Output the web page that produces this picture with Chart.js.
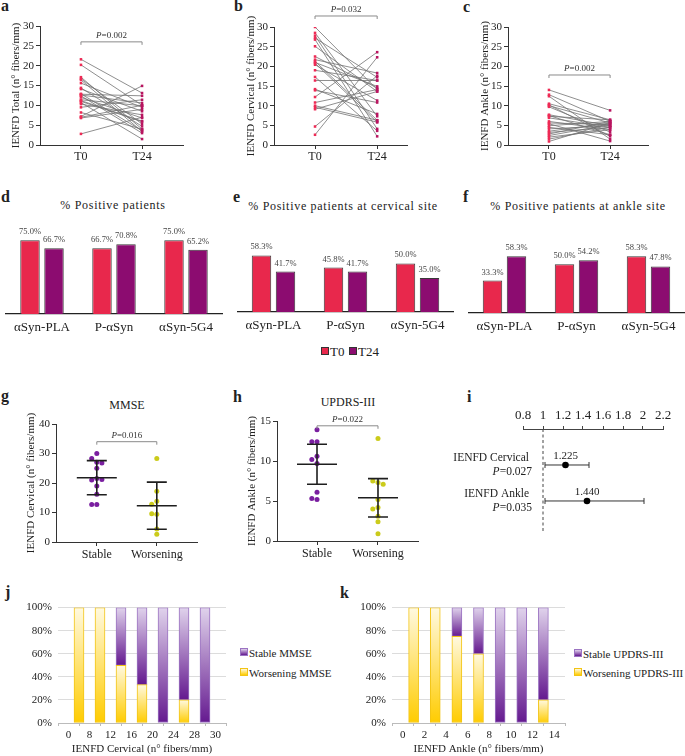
<!DOCTYPE html>
<html>
<head>
<meta charset="utf-8">
<script src="https://cdn.jsdelivr.net/npm/chart.js@4.4.1/dist/chart.umd.min.js"></script>
<style>
  body { margin: 0; background: #fff; width: 685px; height: 756px; position: relative; overflow: hidden;
         font-family: "Liberation Serif", "Times New Roman", serif; color: #222; }
  canvas { position: absolute; }
  .lt { position: absolute; font-weight: bold; font-size: 16px; line-height: 16px; }
  .tt { position: absolute; font-size: 12px; line-height: 14px; white-space: nowrap; transform: translateX(-50%); }
  .sp { letter-spacing: 0.7px; }
  .lg { position: absolute; font-size: 13px; line-height: 14px; white-space: nowrap; }
  .lg2 { position: absolute; font-size: 11px; line-height: 14px; white-space: nowrap; }
  .sw { display: inline-block; width: 6px; height: 6px; border: 1px solid #333; margin-right: 1px; vertical-align: 1px; }
</style>
</head>
<body>
<div class="lt" style="left:1px;top:-2px">a</div>
<div class="lt" style="left:234px;top:-2px">b</div>
<div class="lt" style="left:463px;top:-1px">c</div>
<div class="lt" style="left:1px;top:189px">d</div>
<div class="lt" style="left:233px;top:189px">e</div>
<div class="lt" style="left:463px;top:189px">f</div>
<div class="lt" style="left:1px;top:388px">g</div>
<div class="lt" style="left:233px;top:389px">h</div>
<div class="lt" style="left:467px;top:389px">i</div>
<div class="lt" style="left:5px;top:584px">j</div>
<div class="lt" style="left:340px;top:585px">k</div>

<div class="tt sp" style="left:113px;top:198px">% Positive patients</div>
<div class="tt sp" style="left:343px;top:199px">% Positive patients at cervical site</div>
<div class="tt sp" style="left:578px;top:199px">% Positive patients at ankle site</div>
<div class="tt" style="left:127px;top:398px">MMSE</div>
<div class="tt" style="left:348px;top:395px">UPDRS-III</div>

<div class="lg" style="left:321px;top:345px"><span class="sw" style="background:#E8284C"></span>T0</div>
<div class="lg" style="left:349px;top:345px"><span class="sw" style="background:#8C0C70"></span>T24</div>

<div class="lg2" style="left:240px;top:646px"><span class="sw" style="border-color:#9B73C2;background:linear-gradient(#E0D3EC,#64198F)"></span>Stable MMSE</div>
<div class="lg2" style="left:240px;top:666px"><span class="sw" style="border-color:#F2C414;background:linear-gradient(#FFF9E0,#FFCC00)"></span>Worsening MMSE</div>
<div class="lg2" style="left:574px;top:647px"><span class="sw" style="border-color:#9B73C2;background:linear-gradient(#E0D3EC,#64198F)"></span>Stable UPDRS-III</div>
<div class="lg2" style="left:574px;top:666px"><span class="sw" style="border-color:#F2C414;background:linear-gradient(#FFF9E0,#FFCC00)"></span>Worsening UPDRS-III</div>

<script>
Chart.defaults.font.family = '"Liberation Serif", "Times New Roman", serif';
Chart.defaults.color = '#222';

// ---- data ----
const pairCats = ['T0', 'T24'];
const totalT0  = [21.6, 20.2, 17.1, 16.7, 16.4, 15.6, 14.4, 14.1, 12.8, 12.6, 12.4, 12.0, 11.4, 11.0, 10.7, 10.3, 9.5, 8.2, 7.2, 7.0, 6.8, 12.9, 11.2, 2.8];
const totalT24 = [13.1, 10.0, 4.0, 5.3, 3.4, 9.5, 4.7, 8.5, 12.4, 10.6, 3.0, 6.8, 9.9, 5.9, 1.5, 7.6, 11.4, 4.0, 14.9, 10.0, 9.0, 3.6, 6.0, 7.0];
const cervT0   = [30.0, 28.5, 27.8, 27.2, 26.8, 25.1, 22.5, 21.7, 21.3, 21.0, 20.8, 20.4, 19.0, 17.3, 16.4, 14.2, 13.9, 12.2, 10.8, 10.0, 9.6, 9.1, 4.7, 2.6];
const cervT24  = [14.1, 7.3, 4.1, 17.2, 2.2, 13.6, 14.5, 18.3, 6.3, 14.9, 5.8, 11.3, 16.4, 3.6, 16.4, 7.9, 10.8, 23.6, 14.1, 6.3, 5.8, 13.6, 17.6, 22.3];
const ankleT0  = [14.0, 12.8, 12.4, 10.5, 10.2, 10.0, 9.7, 7.7, 7.5, 7.3, 6.9, 6.0, 5.6, 5.4, 4.9, 4.5, 4.1, 3.5, 3.2, 2.8, 2.4, 2.0, 1.5, 0.9];
const ankleT24 = [8.8, 6.0, 1.5, 6.4, 2.2, 5.6, 3.3, 4.9, 2.6, 6.4, 4.5, 3.9, 5.2, 1.0, 6.0, 2.6, 4.9, 5.6, 4.5, 6.0, 5.2, 3.9, 4.5, 5.6];

const barCats = ['αSyn-PLA', 'P-αSyn', 'αSyn-5G4'];
const posT0 = [75.0, 66.7, 75.0];
const posT24 = [66.7, 70.8, 65.2];
const cervPosT0 = [58.3, 45.8, 50.0];
const cervPosT24 = [41.7, 41.7, 35.0];
const anklePosT0 = [33.3, 50.0, 58.3];
const anklePosT24 = [58.3, 54.2, 47.8];

const groupCats = ['Stable', 'Worsening'];
const mmseStable = [30.0, 28.3, 27.0, 26.8, 25.0, 21.5, 21.0, 21.2, 19.0, 16.2, 12.7, 12.7];
const mmseWorse = [28.3, 17.2, 13.8, 12.8, 9.4, 9.6, 4.4, 2.6];
const mmseMean = [21.8, 12.3];
const mmseSD = [5.8, 8.0];
const updrsStable = [13.9, 12.4, 12.4, 10.6, 10.2, 9.7, 6.1, 5.2, 5.3];
const updrsWorse = [12.8, 7.3, 7.5, 7.1, 5.2, 4.2, 4.0, 3.1, 2.4, 0.9];
const updrsMean = [9.6, 5.4];
const updrsSD = [2.5, 2.4];

const orLabels = ['IENFD Cervical', 'IENFD Ankle'];
const orP = ['0.027', '0.035'];
const orValue = [1.225, 1.440];
const orLow = [1.02, 1.02];
const orHigh = [1.46, 2.01];

const cervBins = [0, 8, 12, 16, 20, 24, 28, 30];
const cervStablePct = [0, 0, 50, 66.7, 100, 80, 100];
const cervWorsePct = [100, 100, 50, 33.3, 0, 20, 0];
const ankleBins = [0, 2, 4, 6, 8, 10, 12, 14];
const ankleStablePct = [0, 0, 25, 40, 100, 100, 80];
const ankleWorsePct = [100, 100, 75, 60, 0, 0, 20];

// ---- plugins ----
const SERIF = '"Liberation Serif", "Times New Roman", serif';

function pText(ctx, label, x, y, size, align) {
  // italic P followed by "=value"
  ctx.font = 'italic ' + size + 'px ' + SERIF;
  const w1 = ctx.measureText('P').width;
  ctx.font = size + 'px ' + SERIF;
  const w2 = ctx.measureText('=' + label).width;
  const sx = align === 'right' ? x - w1 - w2 : x - (w1 + w2) / 2;
  ctx.textAlign = 'left';
  ctx.font = 'italic ' + size + 'px ' + SERIF;
  ctx.fillText('P', sx, y);
  ctx.font = size + 'px ' + SERIF;
  ctx.fillText('=' + label, sx + w1, y);
}

Chart.register({
  id: 'bracket',
  afterDatasetsDraw(chart, args, o) {
    if (!o || o.label == null) return;
    const { x, y } = chart.scales, ctx = chart.ctx;
    const xa = x.getPixelForValue(o.from), xb = x.getPixelForValue(o.to), yy = y.getPixelForValue(o.at);
    ctx.save();
    ctx.strokeStyle = '#8a8a8a';
    ctx.lineWidth = 1;
    ctx.beginPath();
    ctx.moveTo(xa, yy + 3); ctx.lineTo(xa, yy); ctx.lineTo(xb, yy); ctx.lineTo(xb, yy + 3);
    ctx.stroke();
    ctx.fillStyle = '#333';
    ctx.textBaseline = 'bottom';
    pText(ctx, o.label, (xa + xb) / 2, yy - 1.5, 9);
    ctx.restore();
  }
});

Chart.register({
  id: 'barLabels',
  afterDatasetsDraw(chart, args, o) {
    if (!o || !o.show) return;
    const ctx = chart.ctx;
    ctx.save();
    ctx.font = '8.5px ' + SERIF;
    ctx.fillStyle = '#444';
    ctx.textAlign = 'center';
    ctx.textBaseline = 'bottom';
    chart.data.datasets.forEach((ds, i) => {
      chart.getDatasetMeta(i).data.forEach((el, j) => {
        ctx.fillText(ds.data[j].toFixed(1) + '%', el.x, el.y - 4);
      });
    });
    ctx.restore();
  }
});

Chart.register({
  id: 'meanSD',
  afterDatasetsDraw(chart, args, o) {
    if (!o || !o.mean) return;
    const { x, y } = chart.scales, ctx = chart.ctx;
    ctx.save();
    ctx.strokeStyle = '#1e1e1e';
    ctx.lineWidth = 1.6;
    o.mean.forEach((m, i) => {
      const cx = x.getPixelForValue(i + 1);
      const ym = y.getPixelForValue(m), yt = y.getPixelForValue(m + o.sd[i]), yb = y.getPixelForValue(m - o.sd[i]);
      ctx.beginPath();
      ctx.moveTo(cx - 20, ym); ctx.lineTo(cx + 20, ym);
      ctx.moveTo(cx - 10, yt); ctx.lineTo(cx + 10, yt);
      ctx.moveTo(cx - 10, yb); ctx.lineTo(cx + 10, yb);
      ctx.moveTo(cx, yt); ctx.lineTo(cx, yb);
      ctx.stroke();
    });
    ctx.restore();
  }
});

Chart.register({
  id: 'forest',
  beforeDatasetsDraw(chart, args, o) {
    if (!o || !o.show) return;
    const { x } = chart.scales, ctx = chart.ctx, a = chart.chartArea;
    ctx.save();
    ctx.strokeStyle = '#444';
    ctx.lineWidth = 1;
    ctx.setLineDash([3, 2.5]);
    ctx.beginPath();
    ctx.moveTo(x.getPixelForValue(1), a.top);
    ctx.lineTo(x.getPixelForValue(1), a.bottom);
    ctx.stroke();
    ctx.restore();
  },
  afterDatasetsDraw(chart, args, o) {
    if (!o || !o.show) return;
    const { x, y } = chart.scales, ctx = chart.ctx;
    ctx.save();
    ctx.fillStyle = '#222';
    ctx.textBaseline = 'middle';
    orLabels.forEach((lab, i) => {
      const yy = y.getPixelForValue(i + 1);
      ctx.font = '11.5px ' + SERIF;
      ctx.textAlign = 'right';
      ctx.fillText(lab, x.left + 6, yy - 7);
      pText(ctx, orP[i], x.left + 9, yy + 7, 11.5, 'right');
      ctx.font = '11px ' + SERIF;
      ctx.textAlign = 'center';
      ctx.fillText(orValue[i].toFixed(3), x.getPixelForValue(orValue[i]), yy - 9);
    });
    ctx.restore();
  }
});

// ---- layout helper: fixes the plot area of each canvas ----
function panel(box, area, config) {
  const [L, T, W, H] = box, [x0, y0, x1, y1] = area;
  const cv = document.createElement('canvas');
  cv.width = W; cv.height = H;
  cv.style.left = L + 'px'; cv.style.top = T + 'px';
  document.body.appendChild(cv);
  const o = config.options;
  const sx = o.scales.x, sy = o.scales.y;
  const xTop = sx.position === 'top';
  const yShown = sy.display !== false, xShown = sx.display !== false;
  o.responsive = false;
  o.animation = false;
  o.devicePixelRatio = 1;
  o.layout = { padding: {
    left: yShown ? 0 : x0 - L,
    right: L + W - x1,
    top: xTop && xShown ? 0 : y0 - T,
    bottom: !xTop && xShown ? 0 : T + H - y1 } };
  if (yShown) sy.afterFit = s => { s.width = x0 - L; };
  if (xShown) sx.afterFit = s => { s.height = xTop ? y0 - T : T + H - y1; };
  o.plugins = Object.assign({ legend: { display: false }, tooltip: { enabled: false } }, o.plugins || {});
  return new Chart(cv, config);
}

const axisGrid = { drawOnChartArea: false, tickLength: 4, color: '#333' };
const axisBorder = { color: '#333', width: 1 };

function pairedPanel(box, area, range, t0, t24, title, titlePad, p) {
  const links = [];
  t0.forEach((v, i) => links.push({ x: 0, y: v }, { x: 1, y: t24[i] }, { x: 0.5, y: null }));
  return panel(box, area, {
    type: 'scatter',
    data: { datasets: [
      { data: t0.map(v => ({ x: 0, y: v })), backgroundColor: '#EE2A55', pointStyle: 'rect', pointRadius: 1.8, borderWidth: 0 },
      { data: t24.map(v => ({ x: 1, y: v })), backgroundColor: '#B8145F', pointStyle: 'rect', pointRadius: 1.8, borderWidth: 0 },
      { type: 'line', data: links, borderColor: '#727272', borderWidth: 0.8, pointRadius: 0, spanGaps: false }
    ] },
    options: {
      scales: {
        x: { type: 'linear', min: range[0], max: range[1],
             afterBuildTicks: s => { s.ticks = [{ value: 0 }, { value: 1 }]; },
             ticks: { callback: v => pairCats[v], font: { size: 12 }, padding: 1 },
             grid: axisGrid, border: axisBorder },
        y: { min: 0, max: 30, ticks: { stepSize: 5, font: { size: 11 }, padding: 2 },
             grid: axisGrid, border: axisBorder,
             title: { display: true, text: title, font: { size: 11 }, padding: { top: titlePad, bottom: 0 } } }
      },
      plugins: { bracket: p }
    }
  });
}

function barPanel(box, area, t0, t24) {
  const common = { borderColor: '#3a3a3a', borderWidth: 1, categoryPercentage: 0.667, barPercentage: 0.81 };
  return panel(box, area, {
    type: 'bar',
    data: { labels: barCats, datasets: [
      Object.assign({ label: 'T0', data: t0, backgroundColor: '#E8284C' }, common),
      Object.assign({ label: 'T24', data: t24, backgroundColor: '#8C0C70' }, common)
    ] },
    options: {
      scales: {
        x: { grid: { display: false, drawTicks: false }, border: { color: '#222', width: 1.2 },
             ticks: { font: { size: 13 }, padding: 6 } },
        y: { display: false, min: 0, max: 100 }
      },
      plugins: { barLabels: { show: true } }
    }
  });
}

function swarm(vals, spread, gap) {
  const placed = [];
  return vals.map(v => {
    for (const k of [0, -1, 1, -2, 2, -3, 3]) {
      const off = k * spread;
      if (!placed.some(p => Math.abs(p.off - off) < spread * 0.9 && Math.abs(p.v - v) < gap)) {
        placed.push({ off, v });
        return off;
      }
    }
    return 0;
  });
}

function groupPanel(box, area, range, stable, worse, mean, sd, yMax, step, title, titlePad, p, gap) {
  const pts = (vals, base) => swarm(vals, 0.085, gap).map((o, i) => ({ x: base + o, y: vals[i] }));
  return panel(box, area, {
    type: 'scatter',
    data: { datasets: [
      { data: pts(stable, 1), backgroundColor: '#7A1FA0', pointRadius: 2.5, borderWidth: 0 },
      { data: pts(worse, 2), backgroundColor: '#CBCB1B', pointRadius: 2.5, borderWidth: 0 }
    ] },
    options: {
      scales: {
        x: { type: 'linear', min: range[0], max: range[1],
             afterBuildTicks: s => { s.ticks = [{ value: 1 }, { value: 2 }]; },
             ticks: { callback: v => groupCats[v - 1], font: { size: 12 }, padding: 2 },
             grid: axisGrid, border: axisBorder },
        y: { min: 0, max: yMax, ticks: { stepSize: step, font: { size: 11 }, padding: 2 },
             grid: axisGrid, border: axisBorder,
             title: { display: true, text: title, font: { size: 11 }, padding: { top: titlePad, bottom: 0 } } }
      },
      plugins: { bracket: p, meanSD: { mean: mean, sd: sd } }
    }
  });
}

function forestPanel(box, area) {
  const ci = [];
  orValue.forEach((v, i) => ci.push({ x: orLow[i], y: i + 1 }, { x: orHigh[i], y: i + 1 }, { x: v, y: null }));
  return panel(box, area, {
    type: 'scatter',
    data: { datasets: [
      { data: orValue.map((v, i) => ({ x: v, y: i + 1 })), backgroundColor: '#000', pointRadius: 3.3, borderWidth: 0 },
      { type: 'line', data: ci, borderColor: '#333', borderWidth: 1, spanGaps: false,
        pointStyle: 'line', rotation: 90, pointRadius: 3, pointBorderColor: '#333', pointBorderWidth: 1 }
    ] },
    options: {
      scales: {
        x: { type: 'linear', position: 'top', min: 0.8, max: 2.2,
             ticks: { stepSize: 0.2, font: { size: 13 }, padding: 3, autoSkip: false, maxRotation: 0, minRotation: 0,
                      callback: v => +v.toFixed(1) },
             grid: { drawOnChartArea: false, tickLength: 3, color: '#444' }, border: { color: '#444' } },
        y: { display: false, min: 0, max: 2.89, reverse: true }
      },
      plugins: { forest: { show: true } }
    }
  });
}

const purpleFill = ['#E0D3EC', '#64198F'];
const yellowFill = ['#FFF9E0', '#FFCC00'];

function fillFor(base, light, dark) {
  return c => {
    const ch = c.chart, y = ch.scales.y;
    if (c.type !== 'data' || !y || !c.raw || c.raw.y == null) return dark;
    const b = base ? base[c.dataIndex] : 0;
    const top = y.getPixelForValue(b + c.raw.y), bot = y.getPixelForValue(b);
    if (!isFinite(top) || !isFinite(bot)) return dark;
    const g = ch.ctx.createLinearGradient(0, top, 0, bot);
    g.addColorStop(0, light);
    g.addColorStop(1, dark);
    return g;
  };
}

function stackPanel(box, area, edges, stable, worse, title) {
  const pts = arr => arr.map((v, i) => ({ x: i + 0.5, y: v || null }));
  return panel(box, area, {
    type: 'bar',
    data: { datasets: [
      { label: 'Worsening', data: pts(worse), backgroundColor: fillFor(null, yellowFill[0], yellowFill[1]),
        borderColor: '#F2C414', borderWidth: 1, barThickness: 10, borderSkipped: false },
      { label: 'Stable', data: pts(stable), backgroundColor: fillFor(worse, purpleFill[0], purpleFill[1]),
        borderColor: '#9B73C2', borderWidth: 1, barThickness: 10, borderSkipped: false }
    ] },
    options: {
      scales: {
        x: { type: 'linear', min: 0, max: edges.length - 1, stacked: true,
             ticks: { stepSize: 1, callback: v => edges[v], font: { size: 11 }, padding: 3, autoSkip: false, maxRotation: 0 },
             grid: { drawOnChartArea: false, tickLength: 3, color: '#bbb' }, border: { color: '#bbb' },
             title: { display: true, text: title, font: { size: 11 }, padding: 0 } },
        y: { stacked: true, min: 0, max: 100,
             ticks: { stepSize: 20, callback: v => v + '%', font: { size: 11 }, padding: 6 },
             grid: { color: '#dcdcdc', drawTicks: false }, border: { display: false } }
      }
    }
  });
}

// ---- panels ----
pairedPanel([0, 0, 225, 170], [40, 26, 183, 145], [-0.67, 1.67], totalT0, totalT24,
  'IENFD Total (n° fibers/mm)', 10, { from: 0, to: 1, at: 26, label: '0.002' });
pairedPanel([225, 0, 230, 170], [274, 27, 407, 145], [-0.66, 1.48], cervT0, cervT24,
  'IENFD Cervical (n° fibers/mm)', 20, { from: 0, to: 1, at: 32.8, label: '0.032' });
pairedPanel([455, 0, 230, 170], [508, 27, 648, 145], [-0.67, 1.62], ankleT0, ankleT24,
  'IENFD Ankle (n° fibers/mm)', 24, { from: 0, to: 1, at: 17.8, label: '0.002' });

barPanel([0, 212, 228, 125], [6, 215.5, 222, 314], posT0, posT24);
barPanel([230, 212, 226, 125], [237.5, 215, 453.5, 312], cervPosT0, cervPosT24);
barPanel([462, 212, 223, 125], [468.5, 215.5, 684.5, 313], anklePosT0, anklePosT24);

groupPanel([0, 412, 225, 150], [56, 424, 197, 542], [0.32, 2.67], mmseStable, mmseWorse, mmseMean, mmseSD,
  40, 10, 'IENFD Cervical (n° fibers/mm)', 25, { from: 1, to: 2, at: 34, label: '0.016' }, 1.7);
groupPanel([228, 412, 225, 150], [277, 421, 418, 541], [0.344, 2.656], updrsStable, updrsWorse, updrsMean, updrsSD,
  15, 5, 'IENFD Ankle (n° fibers/mm)', 18, { from: 1, to: 2, at: 14.4, label: '0.022' }, 0.63);

forestPanel([450, 400, 235, 140], [523, 429, 663, 533]);

stackPanel([0, 595, 235, 161], [58, 606, 226, 723], cervBins, cervStablePct, cervWorsePct, 'IENFD Cervical (n° fibers/mm)');
stackPanel([335, 595, 240, 161], [392, 607, 565, 723], ankleBins, ankleStablePct, ankleWorsePct, 'IENFD Ankle (n° fibers/mm)');
</script>
</body>
</html>
